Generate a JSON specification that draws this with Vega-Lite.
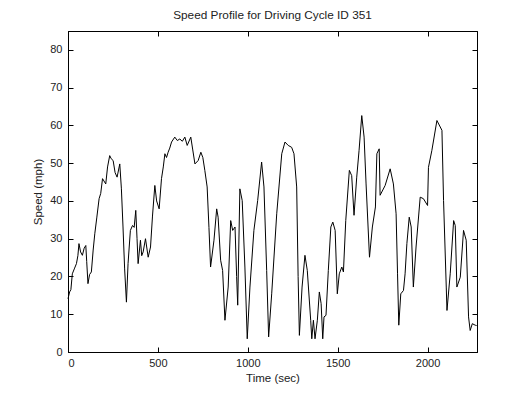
{
  "$schema": "https://vega.github.io/schema/vega-lite/v6.json",
  "width": 409,
  "height": 321,
  "autosize": {"type": "none"},
  "padding": {"left": 68, "top": 31, "right": 51, "bottom": 43},
  "background": "white",
  "title": {"text": "Speed Profile for Driving Cycle ID 351", "fontSize": 11.8, "fontWeight": "normal", "font": "Liberation Sans", "color": "#222222", "offset": 9, "anchor": "middle"},
  "config": {
    "view": {"stroke": "black", "strokeWidth": 1},
    "axis": {
      "grid": false,
      "domainColor": "black",
      "tickColor": "black",
      "tickSize": -5,
      "labelFont": "Liberation Sans",
      "labelFontSize": 11,
      "labelColor": "#222222",
      "titleFont": "Liberation Sans",
      "titleFontSize": 11.5,
      "titleFontWeight": "normal",
      "titleColor": "#222222"
    }
  },
  "data": {"values": [
    {"t": 0, "v": 14.1}, {"t": 9, "v": 15.9}, {"t": 16, "v": 16.5}, {"t": 24, "v": 20.7}, {"t": 35, "v": 22.0}, {"t": 47, "v": 23.4}, {"t": 55, "v": 25.5}, {"t": 61, "v": 28.7},
    {"t": 70, "v": 26.5}, {"t": 80, "v": 25.6}, {"t": 90, "v": 27.5}, {"t": 99, "v": 28.2}, {"t": 104, "v": 24.0}, {"t": 111, "v": 18.1}, {"t": 120, "v": 20.5}, {"t": 130, "v": 21.2}, {"t": 140, "v": 27.0}, {"t": 149, "v": 31.3},
    {"t": 160, "v": 35.5}, {"t": 173, "v": 40.6}, {"t": 182, "v": 42.0}, {"t": 192, "v": 45.9}, {"t": 210, "v": 44.5}, {"t": 220, "v": 49.0}, {"t": 232, "v": 52.0}, {"t": 240, "v": 51.2}, {"t": 251, "v": 50.7},
    {"t": 262, "v": 47.5}, {"t": 273, "v": 46.3}, {"t": 288, "v": 49.8}, {"t": 297, "v": 43.2}, {"t": 306, "v": 33.1}, {"t": 315, "v": 22.0}, {"t": 325, "v": 13.2},
    {"t": 334, "v": 23.4}, {"t": 347, "v": 32.2}, {"t": 359, "v": 33.5}, {"t": 368, "v": 33.0}, {"t": 377, "v": 37.5}, {"t": 384, "v": 30.0}, {"t": 390, "v": 23.4},
    {"t": 403, "v": 29.6}, {"t": 410, "v": 25.5}, {"t": 418, "v": 26.5}, {"t": 431, "v": 30.0}, {"t": 446, "v": 25.1}, {"t": 459, "v": 27.8},
    {"t": 470, "v": 36.0}, {"t": 483, "v": 44.1}, {"t": 493, "v": 40.0}, {"t": 507, "v": 37.9}, {"t": 520, "v": 45.9}, {"t": 530, "v": 49.0}, {"t": 539, "v": 52.5}, {"t": 548, "v": 51.5}, {"t": 557, "v": 52.9},
    {"t": 566, "v": 54.0}, {"t": 576, "v": 55.6}, {"t": 594, "v": 56.9}, {"t": 608, "v": 56.0}, {"t": 622, "v": 56.4}, {"t": 636, "v": 55.8}, {"t": 650, "v": 56.9}, {"t": 663, "v": 54.7},
    {"t": 683, "v": 56.9}, {"t": 694, "v": 53.5}, {"t": 706, "v": 49.8}, {"t": 724, "v": 50.7}, {"t": 739, "v": 52.9}, {"t": 750, "v": 51.5}, {"t": 761, "v": 48.1},
    {"t": 774, "v": 43.7}, {"t": 784, "v": 33.0}, {"t": 793, "v": 22.5}, {"t": 812, "v": 29.6}, {"t": 827, "v": 37.9}, {"t": 835, "v": 35.7},
    {"t": 849, "v": 24.3}, {"t": 860, "v": 21.6}, {"t": 873, "v": 8.4}, {"t": 891, "v": 17.2}, {"t": 905, "v": 34.8},
    {"t": 916, "v": 32.2}, {"t": 929, "v": 33.1}, {"t": 938, "v": 20.0}, {"t": 944, "v": 12.4}, {"t": 956, "v": 43.2}, {"t": 969, "v": 40.1},
    {"t": 984, "v": 22.5}, {"t": 997, "v": 3.5}, {"t": 1012, "v": 17.2}, {"t": 1034, "v": 32.2}, {"t": 1055, "v": 40.1},
    {"t": 1077, "v": 50.3}, {"t": 1090, "v": 43.7}, {"t": 1105, "v": 21.6}, {"t": 1116, "v": 4.0}, {"t": 1133, "v": 15.4},
    {"t": 1161, "v": 36.6}, {"t": 1189, "v": 52.5}, {"t": 1207, "v": 55.6}, {"t": 1225, "v": 54.7}, {"t": 1244, "v": 54.2},
    {"t": 1257, "v": 52.5}, {"t": 1272, "v": 43.7}, {"t": 1280, "v": 20.0}, {"t": 1287, "v": 4.4}, {"t": 1302, "v": 17.2}, {"t": 1318, "v": 25.6},
    {"t": 1331, "v": 21.6}, {"t": 1350, "v": 8.4}, {"t": 1356, "v": 3.5}, {"t": 1365, "v": 8.4}, {"t": 1374, "v": 3.5},
    {"t": 1387, "v": 8.4}, {"t": 1398, "v": 15.9}, {"t": 1408, "v": 12.8}, {"t": 1417, "v": 3.5}, {"t": 1424, "v": 9.3},
    {"t": 1435, "v": 9.7}, {"t": 1448, "v": 21.6}, {"t": 1462, "v": 33.1}, {"t": 1473, "v": 34.4}, {"t": 1486, "v": 32.2},
    {"t": 1498, "v": 15.4}, {"t": 1509, "v": 20.7}, {"t": 1523, "v": 22.5}, {"t": 1532, "v": 21.2}, {"t": 1545, "v": 34.8},
    {"t": 1565, "v": 48.1}, {"t": 1578, "v": 46.7}, {"t": 1591, "v": 36.2}, {"t": 1606, "v": 46.3}, {"t": 1619, "v": 53.4},
    {"t": 1634, "v": 62.6}, {"t": 1647, "v": 56.9}, {"t": 1658, "v": 44.5}, {"t": 1677, "v": 25.1}, {"t": 1693, "v": 33.1},
    {"t": 1710, "v": 38.4}, {"t": 1718, "v": 52.5}, {"t": 1731, "v": 53.8}, {"t": 1736, "v": 41.5}, {"t": 1764, "v": 44.1},
    {"t": 1792, "v": 48.5}, {"t": 1810, "v": 44.5}, {"t": 1825, "v": 36.6}, {"t": 1833, "v": 20.7}, {"t": 1840, "v": 7.1},
    {"t": 1851, "v": 15.4}, {"t": 1866, "v": 16.3}, {"t": 1875, "v": 20.7}, {"t": 1885, "v": 28.7}, {"t": 1898, "v": 35.7},
    {"t": 1909, "v": 33.1}, {"t": 1921, "v": 17.2}, {"t": 1936, "v": 27.8}, {"t": 1959, "v": 41.0}, {"t": 1977, "v": 40.6},
    {"t": 2000, "v": 38.8}, {"t": 2005, "v": 48.9}, {"t": 2024, "v": 53.4}, {"t": 2052, "v": 61.3}, {"t": 2080, "v": 58.7},
    {"t": 2089, "v": 40.1}, {"t": 2104, "v": 17.2}, {"t": 2108, "v": 11.0}, {"t": 2126, "v": 20.7}, {"t": 2145, "v": 34.8},
    {"t": 2154, "v": 33.5}, {"t": 2163, "v": 17.2}, {"t": 2182, "v": 19.8}, {"t": 2200, "v": 32.2}, {"t": 2215, "v": 29.6},
    {"t": 2228, "v": 9.3}, {"t": 2237, "v": 5.7}, {"t": 2249, "v": 7.5}, {"t": 2265, "v": 7.1}, {"t": 2273, "v": 7.0}
  ]},
  "layer": [
    {
      "mark": {"type": "line", "color": "black", "strokeWidth": 1},
      "encoding": {
        "x": {"field": "t", "type": "quantitative", "scale": {"domain": [0, 2275], "nice": false, "zero": false},
              "axis": {"orient": "bottom", "title": "Time (sec)", "format": "d", "values": [0, 500, 1000, 1500, 2000], "labelPadding": 10, "titlePadding": 4}},
        "y": {"field": "v", "type": "quantitative", "scale": {"domain": [0, 85], "nice": false},
              "axis": {"orient": "left", "title": "Speed (mph)", "format": "d", "values": [0, 10, 20, 30, 40, 50, 60, 70, 80], "labelPadding": 11, "titlePadding": 6}}
      }
    },
    {
      "mark": {"type": "line", "strokeOpacity": 0},
      "encoding": {
        "x": {"field": "t", "type": "quantitative", "axis": {"orient": "top", "title": null, "labels": false, "values": [0, 500, 1000, 1500, 2000]}},
        "y": {"field": "v", "type": "quantitative", "axis": {"orient": "right", "title": null, "labels": false, "values": [0, 10, 20, 30, 40, 50, 60, 70, 80]}}
      }
    }
  ]
}
